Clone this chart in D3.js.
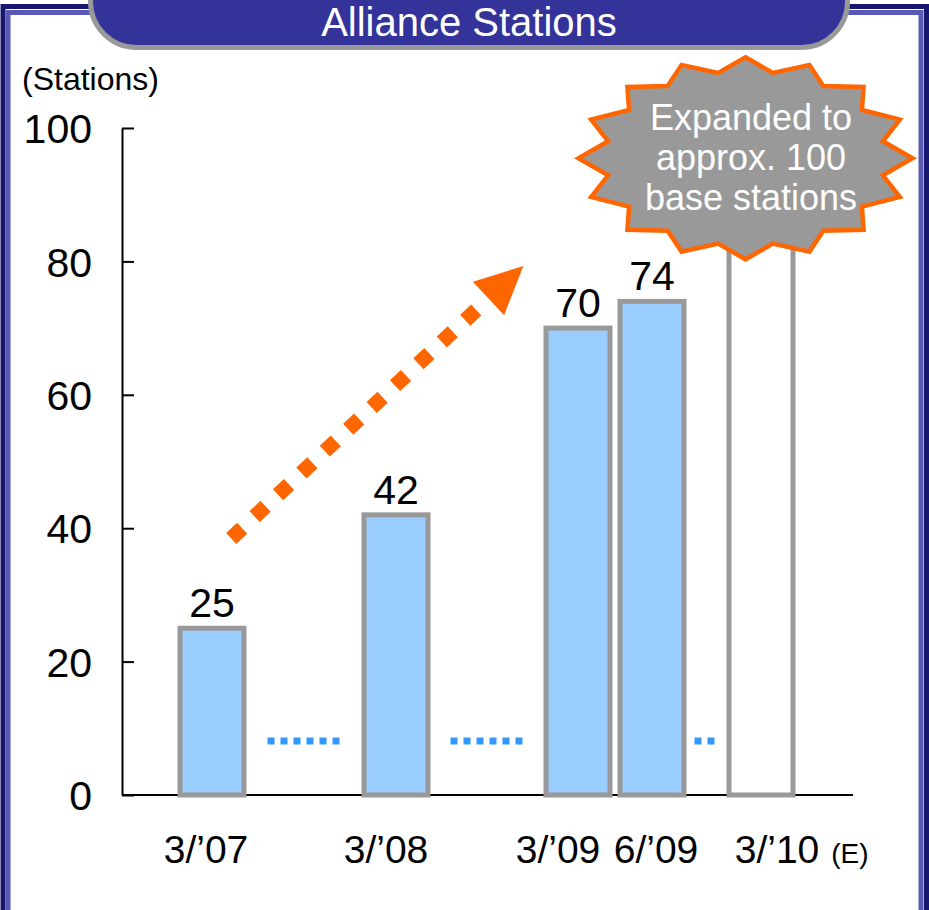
<!DOCTYPE html>
<html>
<head>
<meta charset="utf-8">
<script src="https://cdn.jsdelivr.net/npm/d3@7"></script>
<style>
  html, body { margin: 0; padding: 0; background: #ffffff; }
  svg { display: block; font-family: "Liberation Sans", Arial, Helvetica, sans-serif; }
</style>
</head>
<body>
<svg id="chart" width="929" height="910"></svg>
<script>
// ---- data ----
const categories = ["3/’07", "3/’08", "3/’09", "6/’09", "3/’10"];
const stations   = [25, 42, 70, 74, 100];
const estimated  = [false, false, false, false, true];
const valueLabels = ["25", "42", "70", "74", null];
const yTicks = [0, 20, 40, 60, 80, 100];
const titleText = "Alliance Stations";
const unitText = "(Stations)";
const calloutLines = ["Expanded to", "approx. 100", "base stations"];

// ---- layout ----
const W = 929, H = 910;
const plot = { left: 122, right: 853, top: 128, bottom: 795 };
const barCenters = [212, 396, 578, 652, 761];
const labelNudge = [-6, -10, -20, 4, 16];
const barOuter = 69, barStroke = 5;

const colors = {
  frameDark: "#17176f",
  frameLight: "#5a5ab4",
  banner: "#333399",
  bannerEdge: "#999999",
  barFill: "#99ccff",
  barEdge: "#999999",
  breakDots: "#3399ff",
  arrow: "#ff6600",
  burst: "#999999",
  burstEdge: "#ff6600"
};

const svg = d3.select("#chart");

// ---- frame ----
svg.append("rect")
  .attr("x", 3).attr("y", 6.5).attr("width", 923.5).attr("height", 950)
  .attr("fill", "none").attr("stroke", colors.frameDark).attr("stroke-width", 5);
svg.append("rect")
  .attr("x", 8).attr("y", 12.5).attr("width", 913).attr("height", 950)
  .attr("fill", "none").attr("stroke", colors.frameLight).attr("stroke-width", 5);

// ---- title banner ----
svg.append("rect")
  .attr("x", 90.5).attr("y", -60).attr("width", 757).attr("height", 107.5)
  .attr("rx", 46).attr("ry", 46)
  .attr("fill", colors.banner).attr("stroke", colors.bannerEdge).attr("stroke-width", 5);
svg.append("text")
  .attr("x", 469).attr("y", 36)
  .attr("text-anchor", "middle")
  .attr("fill", "#ffffff").attr("font-size", 40)
  .text(titleText);

// ---- scales ----
const y = d3.scaleLinear().domain([0, 100]).range([plot.bottom, plot.top]);
const x = d3.scaleOrdinal().domain(categories).range(barCenters);

// ---- unit label ----
svg.append("text")
  .attr("x", 22).attr("y", 90)
  .attr("font-size", 32).attr("fill", "#000")
  .text(unitText);

// ---- y axis ----
const yAxis = d3.axisLeft(y)
  .tickValues(yTicks)
  .tickSizeInner(-12)
  .tickSizeOuter(0)
  .tickPadding(30)
  .tickFormat(d3.format("d"));

const gy = svg.append("g")
  .attr("transform", `translate(${plot.left},0)`)
  .call(yAxis);
gy.select(".domain").attr("stroke", "#000").attr("stroke-width", 2);
gy.selectAll(".tick line").attr("stroke", "#000").attr("stroke-width", 2);
gy.selectAll(".tick text")
  .attr("font-size", 41)
  .attr("font-family", "Liberation Sans, Arial, sans-serif")
  .attr("fill", "#000")
  .attr("dy", "0.36em");

// ---- x axis baseline ----
svg.append("line")
  .attr("x1", plot.left).attr("x2", plot.right)
  .attr("y1", y(0)).attr("y2", y(0))
  .attr("stroke", "#000").attr("stroke-width", 2);

// ---- period break markers between bars ----
const bars = categories.map((c, i) => ({ cat: c, value: stations[i], est: estimated[i], label: valueLabels[i], i }));
const breaks = [];
for (let i = 0; i < bars.length - 1; i++) {
  const left = x(bars[i].cat) + barOuter / 2;
  const right = x(bars[i + 1].cat) - barOuter / 2;
  const gap = right - left;
  if (gap > 30) {
    const len = Math.min(73, gap - 16);
    const mid = (left + right) / 2;
    breaks.push({ x1: mid - len / 2, x2: mid + len / 2 });
  }
}
svg.append("g").selectAll("line").data(breaks).join("line")
  .attr("x1", d => d.x1).attr("x2", d => d.x2)
  .attr("y1", y(0) - 54).attr("y2", y(0) - 54)
  .attr("stroke", colors.breakDots).attr("stroke-width", 7)
  .attr("stroke-dasharray", "7,6");

// ---- bars ----
const inner = barOuter - barStroke;
svg.append("g").selectAll("rect").data(bars).join("rect")
  .attr("x", d => x(d.cat) - inner / 2)
  .attr("width", inner)
  .attr("y", d => y(d.value))
  .attr("height", d => y(0) - y(d.value))
  .attr("fill", d => d.est ? "#ffffff" : colors.barFill)
  .attr("stroke", colors.barEdge)
  .attr("stroke-width", barStroke);

// ---- value labels ----
svg.append("g").selectAll("text").data(bars.filter(d => d.label)).join("text")
  .attr("x", d => x(d.cat))
  .attr("y", d => y(d.value) - 11)
  .attr("text-anchor", "middle")
  .attr("font-size", 41).attr("fill", "#000")
  .text(d => d.label);

// ---- category labels ----
const catG = svg.append("g");
bars.forEach(d => {
  const cx = x(d.cat) + labelNudge[d.i];
  const t = catG.append("text")
    .attr("x", cx).attr("y", 863)
    .attr("text-anchor", "middle")
    .attr("font-size", 39).attr("fill", "#000")
    .text(d.cat);
  if (d.est) {
    const w = t.node().getComputedTextLength();
    catG.append("text")
      .attr("x", cx + w / 2 + 12).attr("y", 863)
      .attr("font-size", 28).attr("fill", "#000")
      .text("(E)");
  }
});

// ---- growth arrow ----
const arrowStart = [236.7, 533.3];   // centre of first dot
const arrowTip = [523.3, 266];
const dx = arrowTip[0] - arrowStart[0], dy = arrowTip[1] - arrowStart[1];
const L = Math.hypot(dx, dy);
const ux = dx / L, uy = dy / L;
const dot = 15, step = 32, nDots = 11;
const lineLen = (nDots - 1) * step + dot;
const p0 = [arrowStart[0] - ux * dot / 2, arrowStart[1] - uy * dot / 2];
const p1 = [p0[0] + ux * lineLen, p0[1] + uy * lineLen];
svg.append("line")
  .attr("x1", p0[0]).attr("y1", p0[1]).attr("x2", p1[0]).attr("y2", p1[1])
  .attr("stroke", colors.arrow).attr("stroke-width", dot)
  .attr("stroke-dasharray", `${dot},${step - dot}`);
const headLen = 47.6, headHalf = 22.9;
const bc = [arrowTip[0] - ux * headLen, arrowTip[1] - uy * headLen];
const px = -uy, py = ux;
svg.append("path")
  .attr("d", d3.line()([
    arrowTip,
    [bc[0] + px * headHalf, bc[1] + py * headHalf],
    [bc[0] - px * headHalf, bc[1] - py * headHalf]
  ]) + "Z")
  .attr("fill", colors.arrow);

// ---- callout starburst ----
const burst = { cx: 745.5, cy: 158.3, rx: 167, ry: 101, irx: 140, iry: 87, points: 16 };
const burstPts = [];
for (let k = 0; k < burst.points * 2; k++) {
  const a = k * Math.PI / burst.points;
  const outer = k % 2 === 0;
  const rx = outer ? burst.rx : burst.irx;
  const ry = outer ? burst.ry : burst.iry;
  burstPts.push([burst.cx + rx * Math.sin(a), burst.cy - ry * Math.cos(a)]);
}
svg.append("path")
  .attr("d", d3.line()(burstPts) + "Z")
  .attr("fill", colors.burst)
  .attr("stroke", colors.burstEdge).attr("stroke-width", 4.5)
  .attr("stroke-linejoin", "miter");
svg.append("g").selectAll("text").data(calloutLines).join("text")
  .attr("x", 751)
  .attr("y", (d, i) => 130 + i * 40)
  .attr("text-anchor", "middle")
  .attr("font-size", 36).attr("fill", "#ffffff")
  .text(d => d);
</script>
</body>
</html>
